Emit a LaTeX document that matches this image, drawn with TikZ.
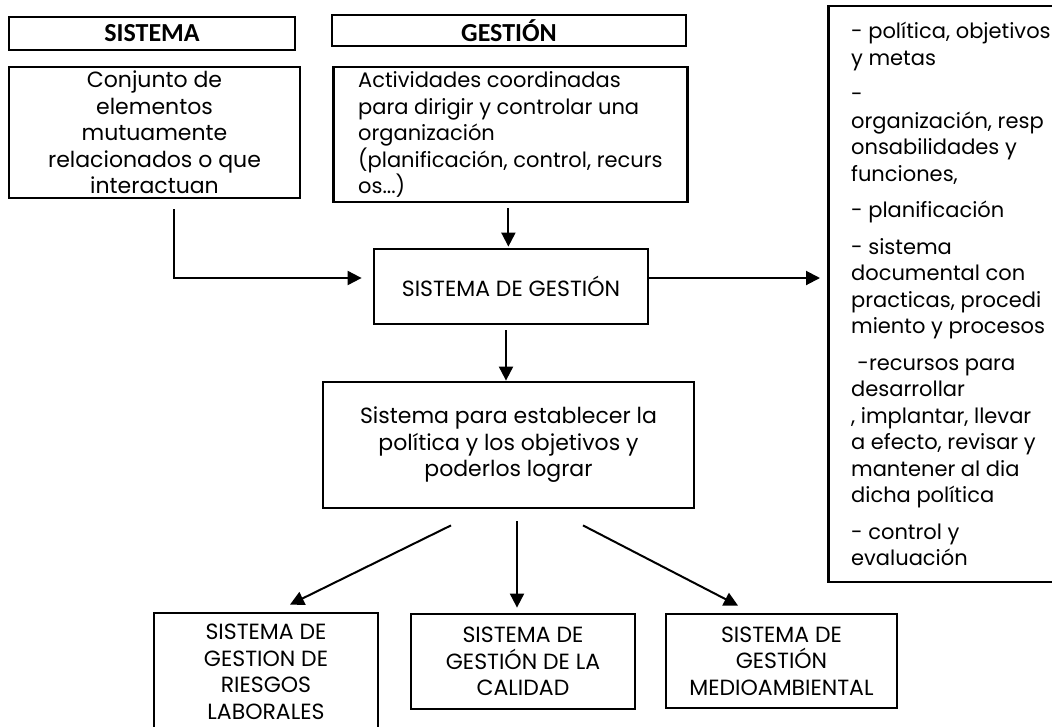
\documentclass[tikz,border=0pt]{standalone}
\usepackage{fontspec}
\usetikzlibrary{arrows.meta,calc}
\newfontfamily\carlito{Carlito}
\newfontfamily\gothic{Poppins}
\newcommand{\gothfont}{\gothic\fontsize{22}{26.5}\selectfont}
\newcommand{\headfont}{\carlito\bfseries\fontsize{26}{30}\selectfont}

\begin{document}
\begin{tikzpicture}[x=1pt, y=-1pt]
\tikzset{ >={Triangle[length=14pt,width=14pt]},
  box/.style={draw, line width=2.8pt, inner sep=0pt, font=\gothfont, align=center},
  headbox/.style={draw, line width=2.8pt, inner sep=0pt, font=\headfont},
  arr/.style={->, line width=2pt},
}
\useasboundingbox (0,0) rectangle (1052,726);

% cabeceras
\node [headbox, minimum width=286pt, minimum height=33pt] (sisH) at (152,33.5) {SISTEMA};
\node [headbox, minimum width=354pt, minimum height=31pt] (gesH) at (509,30.5) {GESTIÓN};

% definiciones
\node [box, minimum width=291pt, minimum height=131pt] (conj) at (154.5,132.5) {Conjunto de\\elementos\\mutuamente\\relacionados o que\\interactuan};
\node [box, align=left, anchor=west, inner xsep=4pt, minimum width=354pt, minimum height=135pt, font=\gothic\fontsize{21}{26.5}\selectfont] (activ) at (332,134.5) {Actividades coordinadas\\para dirigir y controlar una\\organización\\(planificación, control, recurs\\os...)};

\node [box, minimum width=274pt, minimum height=75pt] (sg) at (511,286.5) {SISTEMA DE GESTIÓN};

% lista de la derecha
\node [box, align=left, anchor=west, inner xsep=3pt, minimum width=245pt, minimum height=576pt, font=\gothic\fontsize{21}{26.5}\selectfont] (req) at (827,294) {- política, objetivos\\y metas\\[10pt]
-\\organización, resp\\onsabilidades y\\funciones,\\[10pt]
- planificación\\[10pt]
- sistema\\documental con\\practicas, procedi\\miento y procesos\\[10pt]
\hspace{0.3em}-recursos para\\desarrollar\\, implantar, llevar\\a efecto, revisar y\\mantener al dia\\dicha política\\[10pt]
- control y\\evaluación};

\node [box, minimum width=371pt, minimum height=126pt] (spara) at (508.5,445) {Sistema para establecer la\\política y los objetivos y\\poderlos lograr};

% sistemas
\node [box, minimum width=224pt, minimum height=118pt] (riesgos) at (266,672) {SISTEMA DE\\GESTION DE\\RIESGOS\\LABORALES};
\node [box, minimum width=224pt, minimum height=95pt] (calidad) at (523,661.5) {SISTEMA DE\\GESTIÓN DE LA\\CALIDAD};
\node [box, minimum width=231pt, minimum height=94pt] (medio) at (781.5,661) {SISTEMA DE\\GESTIÓN\\MEDIOAMBIENTAL};

\draw [arr] ([xshift=19.5pt, yshift=-10pt]conj.south) |- ([xshift=-11pt, yshift=8.5pt]sg.west);
\draw [arr] ([xshift=-2pt, yshift=-5pt]activ.south) -- ([xshift=-2pt, yshift=1pt]activ.south |- sg.north);
\draw [arr] ([yshift=8.5pt]sg.east) -- ($(sg.east -| req.west)+(-7,-8.5)$);
\draw [arr] ([xshift=-2.5pt, yshift=-5pt]spara.north |- sg.south) -- ([xshift=-2.5pt]spara.north);

\draw [arr] ($(spara.south)+(-57.5,16)$) -- ($(riesgos.north)+(24,-7)$);
\draw [arr] ($(spara.south)+(8.5,12)$)   -- ($(calidad.north)+(-6,-5)$);
\draw [arr] ($(spara.south)+(74.5,16)$)  -- ($(medio.north)+(-43.5,-7)$);

\end{tikzpicture}
\end{document}
